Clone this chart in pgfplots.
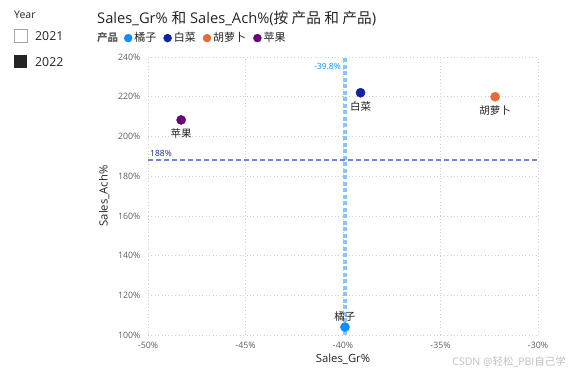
\documentclass[border=0pt]{standalone}
\usepackage{pgfplots}
\pgfplotsset{compat=1.18}
\usepackage{fontspec}
\setmainfont{Open Sans}
\newfontfamily\cjk{Noto Sans CJK SC}
\definecolor{cJu}{HTML}{118DFF}
\definecolor{cBai}{HTML}{12239E}
\definecolor{cHu}{HTML}{E66C37}
\definecolor{cPing}{HTML}{6B007B}
\definecolor{txt}{HTML}{252423}
\definecolor{tick}{HTML}{605E5C}
\definecolor{vline}{HTML}{88C4FF}
\definecolor{hline}{HTML}{7484D6}
\begin{document}
\begin{tikzpicture}
\path[use as bounding box] (0,0) rectangle (569pt,373pt);
% slicer-like Year legend
\node[anchor=west, text=txt, font=\fontsize{10.5}{12}\selectfont, inner sep=0] at (14pt,358pt) {Year};
\draw[gray!70, line width=0.6pt, fill=white] (14pt,331pt) rectangle (27pt,344pt);
\node[anchor=west, text=txt, font=\fontsize{12.3}{14}\selectfont, inner sep=0] at (35pt,337pt) {2021};
\fill[txt] (14pt,305pt) rectangle (27pt,318pt);
\node[anchor=west, text=txt, font=\fontsize{12.3}{14}\selectfont, inner sep=0] at (35pt,311pt) {2022};
% title
\node[anchor=west, text=txt, font=\fontsize{14.7}{16}\selectfont, inner sep=0] at (97pt,355pt) {Sales\_Gr\% {\cjk 和} Sales\_Ach\%({\cjk 按 产品 和 产品})};
\node[anchor=west, text=tick, font=\cjk\bfseries\fontsize{10.5}{11}\selectfont, inner sep=0] at (97pt,335pt) {产品};
% watermark
\node[anchor=east, text=gray!50, font=\fontsize{10.5}{11}\selectfont, inner sep=0] at (566pt,11pt) {CSDN @{\cjk 轻松}\_PBI{\cjk 自己学}};
\begin{axis}[
  at={(148pt,38pt)}, anchor=south west,
  scale only axis, width=390pt, height=278pt,
  xmin=-50, xmax=-30, ymin=100, ymax=240,
  xtick={-50,-45,-40,-35,-30}, ytick={100,120,140,160,180,200,220,240},
  xticklabel={\pgfmathprintnumber{\tick}\%},
  yticklabel={\pgfmathprintnumber{\tick}\%},
  /pgf/number format/assume math mode=true,
  ticklabel style={text=tick, font=\fontsize{8.8}{9}\selectfont},
  xticklabel style={yshift=-3.5pt},
  yticklabel style={xshift=-4pt},
  axis line style={draw=none}, tick style={draw=none},
  grid=major, grid style={dash pattern=on 0.8pt off 2.6pt, color=gray!38, line width=0.7pt},
  xlabel={Sales\_Gr\%}, ylabel={Sales\_Ach\%},
  label style={text=txt, font=\fontsize{11.3}{12}\selectfont},
  xlabel style={yshift=1pt},
  ylabel style={yshift=2pt},
  clip=false,
  legend columns=-1,
  legend style={draw=none, fill=none, at={(-0.062,1.068)}, anchor=west,
    font=\cjk\fontsize{11}{12}\selectfont, text=txt, inner sep=0pt,
    /tikz/every even column/.append style={column sep=5pt}},
  legend image code/.code={\fill[#1] (0pt,0pt) circle (4pt);},
  nodes near coords style={text=txt, font=\cjk\fontsize{10.5}{11}\selectfont},
]
% average lines
\addplot[forget plot, vline, line width=3.2pt, dash pattern=on 4pt off 2.5pt] coordinates {(-39.9,100) (-39.9,240)};
\addplot[forget plot, hline, line width=2.3pt, dash pattern=on 5pt off 3pt] coordinates {(-50,188) (-30,188)};
\node[anchor=north east, text=cJu, font=\fontsize{8.5}{9}\selectfont, inner sep=1pt] at (axis cs:-40.05,237.5) {-39.8\%};
\node[anchor=south west, text=cBai, font=\fontsize{8.5}{9}\selectfont, inner sep=1pt] at (axis cs:-49.95,189) {188\%};
% data
\addplot[only marks, mark=*, mark size=4.6pt, color=cJu, fill=cJu,
  nodes near coords={橘子}, nodes near coords style={anchor=south, yshift=2pt}] coordinates {(-39.9,104)};
\addplot[only marks, mark=*, mark size=4.6pt, color=cBai, fill=cBai,
  nodes near coords={白菜}, nodes near coords style={anchor=north, yshift=-5pt}] coordinates {(-39.1,222)};
\addplot[only marks, mark=*, mark size=4.6pt, color=cHu, fill=cHu,
  nodes near coords={胡萝卜}, nodes near coords style={anchor=north, yshift=-5pt}] coordinates {(-32.2,220)};
\addplot[only marks, mark=*, mark size=4.6pt, color=cPing, fill=cPing,
  nodes near coords={苹果}, nodes near coords style={anchor=north, yshift=-5pt}] coordinates {(-48.3,208.3)};
\legend{橘子,白菜,胡萝卜,苹果}
\end{axis}
\end{tikzpicture}
\end{document}
